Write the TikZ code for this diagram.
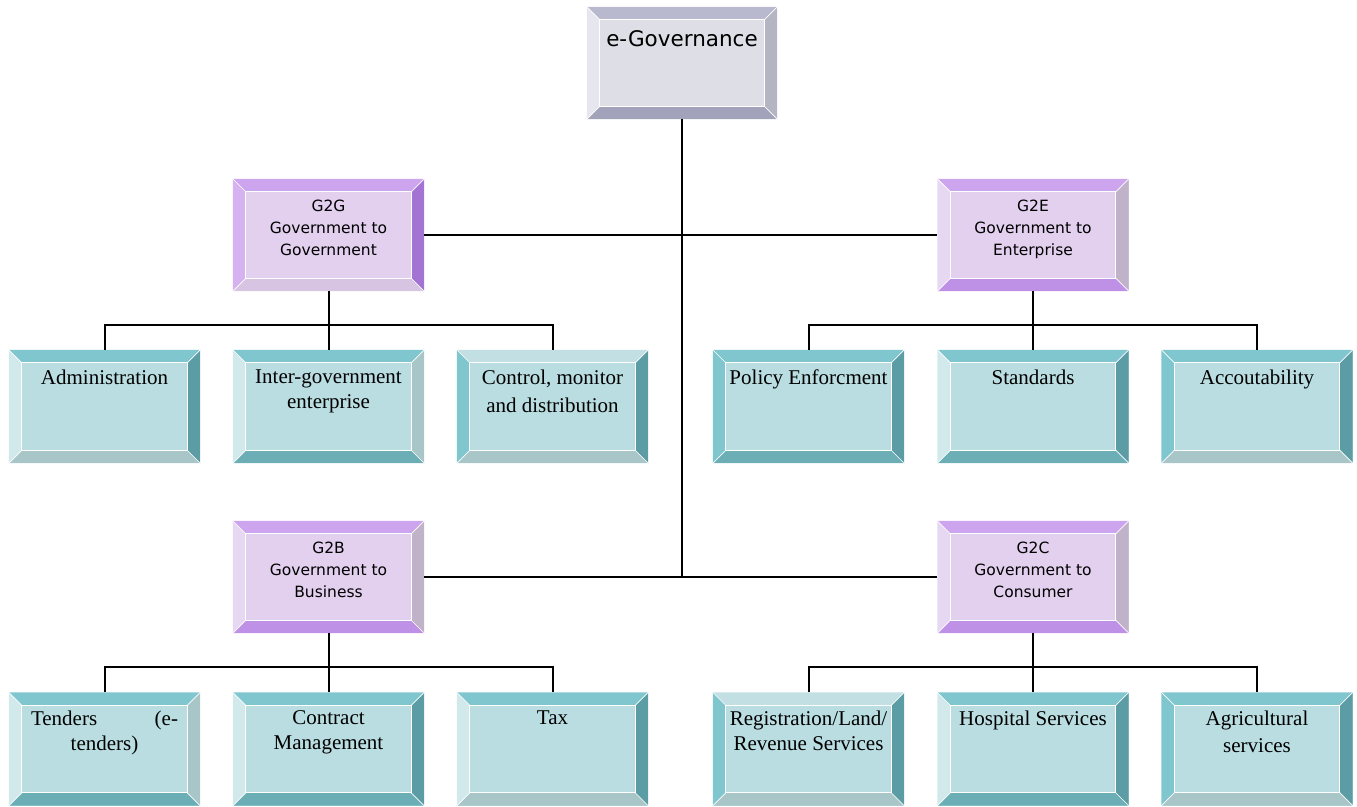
\documentclass[tikz,border=0pt]{standalone}
\usepackage{fontspec}
\setmainfont{Liberation Serif}
\newfontfamily\tahoma{DejaVu Sans}
\usepackage{tikz}
\usetikzlibrary{positioning}

\definecolor{tealface}{HTML}{B9DDE1}
\definecolor{tealmid}{HTML}{80C6CF}
\definecolor{teallight}{HTML}{D2E9EC}
\definecolor{tealpale}{HTML}{C2E0E3}
\definecolor{tealdark}{HTML}{5C9CA5}
\definecolor{tealgrey}{HTML}{A8C5C8}
\definecolor{tealdeep}{HTML}{6CAEB6}
\definecolor{lilacface}{HTML}{E2D0EE}
\definecolor{lilactop}{HTML}{CDA5EE}
\definecolor{lilacleft}{HTML}{D6B2F0}
\definecolor{lilaclight}{HTML}{E6D8F2}
\definecolor{lilacdark}{HTML}{A474D4}
\definecolor{lilacgrey}{HTML}{C0B2C8}
\definecolor{lilacbot}{HTML}{BE90E6}
\definecolor{lilacpale}{HTML}{D6C4E2}
\definecolor{greyface}{HTML}{DEDEE6}
\definecolor{greytop}{HTML}{B8B8CE}
\definecolor{greyleft}{HTML}{E6E6EE}
\definecolor{greyright}{HTML}{B4B4C2}
\definecolor{greybot}{HTML}{A2A2BA}

% bevelled frame round a node: top, left, right, bottom colour
\newcommand\bevel[5]{%
  \fill[#2] (#1.north west) -- (#1.north east) -- ([shift={(-13,13)}]#1.north east) -- ([shift={(13,13)}]#1.north west) -- cycle;
  \fill[#3] (#1.north west) -- ([shift={(13,13)}]#1.north west) -- ([shift={(13,-13)}]#1.south west) -- (#1.south west) -- cycle;
  \fill[#4] (#1.north east) -- ([shift={(-13,13)}]#1.north east) -- ([shift={(-13,-13)}]#1.south east) -- (#1.south east) -- cycle;
  \fill[#5] (#1.south west) -- ([shift={(13,-13)}]#1.south west) -- ([shift={(-13,-13)}]#1.south east) -- (#1.south east) -- cycle;
  \draw[white, line width=1pt] ([shift={(13,13)}]#1.north west) rectangle ([shift={(-13,-13)}]#1.south east);
  \draw[white, line width=.7pt] (#1.north west) -- ++(13,13) (#1.north east) -- ++(-13,13)
    (#1.south west) -- ++(13,-13) (#1.south east) -- ++(-13,-13);
}

\tikzset{
  box/.style={rectangle, inner sep=0pt, minimum width=191pt, minimum height=113pt},
  leaf/.style={box, fill=tealface},
  grp/.style={box, minimum height=112pt, fill=lilacface},
  txt/.style={anchor=north, inner sep=0pt, align=center, yshift=-20pt, font=\fontsize{21}{25}\selectfont},
  txtlow/.style={txt, yshift=2pt},
  gtxt/.style={anchor=north, inner sep=0pt, align=center, yshift=-21pt, font=\tahoma\fontsize{15.5}{22}\selectfont},
  link/.style={line width=2pt, black}
}

\begin{document}
\begin{tikzpicture}[x=1pt, y=-1pt]
\useasboundingbox (0,0) rectangle (1357,806);

\node[box, minimum width=190pt, minimum height=112pt, fill=greyface,
      label={[gtxt, yshift=-3pt, font=\tahoma\fontsize{21.5}{25}\selectfont]north:e-Governance}] (egov) at (682,63) {};

\node[grp, label={[gtxt]north:{G2G\\Government to\\Government}}] (g2g) at (328.5,235) {};
\node[grp, label={[gtxt]north:{G2E\\Government to\\Enterprise}}] (g2e) at (1033,235) {};
\node[grp, label={[gtxt]north:{G2B\\Government to\\Business}}] (g2b) at (328.5,577) {};
\node[grp, label={[gtxt]north:{G2C\\Government to\\Consumer}}] (g2c) at (1033,577) {};

\node[leaf, label={[txt]north:Administration}] (adm) at (104.5,406.5) {};
\node[leaf, label={[txt]north:{Inter-government\\enterprise}}] (ige) at (328.5,406.5) {};
\node[leaf, label={[txt]north:{Control, monitor\\[3pt]and distribution}}] (ctl) at (552.5,406.5) {};
\node[leaf, label={[txt]north:Policy Enforcment}] (pol) at (808.5,406.5) {};
\node[leaf, label={[txt]north:Standards}] (std) at (1033,406.5) {};
\node[leaf, label={[txt]north:Accoutability}] (acc) at (1257,406.5) {};

\node[leaf, label={[txtlow]north:{\makebox[147pt][s]{Tenders\hfill(e-}\\tenders)}}] (tnd) at (104.5,749) {};
\node[leaf, label={[txtlow]north:{Contract\\Management}}] (con) at (328.5,749) {};
\node[leaf, label={[txtlow]north:Tax}] (tax) at (552.5,749) {};
\node[leaf, label={[txtlow]north:{Registration/Land/\\Revenue Services}}] (reg) at (808.5,749) {};
\node[leaf, label={[txtlow]north:Hospital Services}] (hos) at (1033,749) {};
\node[leaf, label={[txtlow]north:{Agricultural\\[2pt]services}}] (agr) at (1257,749) {};

\bevel{egov}{greytop}{greyleft}{greyright}{greybot}
\bevel{g2g}{lilactop}{lilacleft}{lilacdark}{lilacpale}
\bevel{g2e}{lilactop}{lilaclight}{lilacgrey}{lilacbot}
\bevel{g2b}{lilactop}{lilaclight}{lilacgrey}{lilacbot}
\bevel{g2c}{lilactop}{lilaclight}{lilacgrey}{lilacbot}

\bevel{adm}{tealmid}{teallight}{tealdark}{tealgrey}
\bevel{ige}{tealmid}{teallight}{tealgrey}{tealdeep}
\bevel{ctl}{tealpale}{tealmid}{tealdark}{tealgrey}
\bevel{pol}{tealmid}{tealmid}{tealdark}{tealdeep}
\bevel{std}{tealmid}{teallight}{tealdark}{tealdeep}
\bevel{acc}{tealmid}{tealmid}{tealdark}{tealgrey}
\bevel{tnd}{tealmid}{teallight}{tealgrey}{tealdeep}
\bevel{con}{tealmid}{teallight}{tealdark}{tealdeep}
\bevel{tax}{tealmid}{teallight}{tealdark}{tealgrey}
\bevel{reg}{tealpale}{tealmid}{tealdark}{tealgrey}
\bevel{hos}{tealmid}{teallight}{tealdark}{tealdeep}
\bevel{agr}{tealmid}{tealmid}{tealdark}{tealgrey}

% links
\draw[link] (egov) -- (egov |- g2b);
\draw[link] (g2g) -- (g2e);
\draw[link] (g2b) -- (g2c);
\foreach \p/\a/\b/\c in {g2g/adm/ige/ctl, g2e/pol/std/acc, g2b/tnd/con/tax, g2c/reg/hos/agr}{
  \draw[link] (\p) -- (\b);
  \draw[link] (\a.north) -- ++(0,-25) -| (\c.north);
}
\end{tikzpicture}
\end{document}
